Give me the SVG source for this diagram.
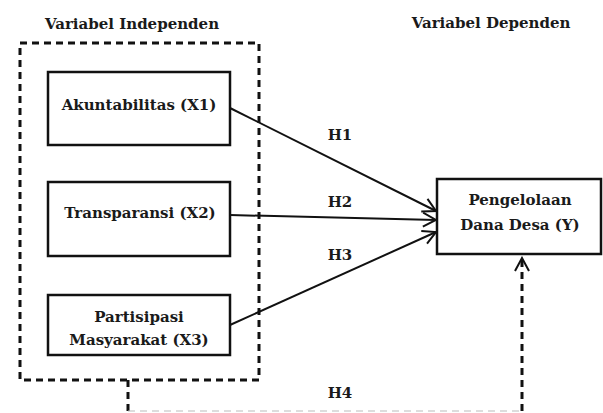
<svg xmlns="http://www.w3.org/2000/svg" width="603" height="413" viewBox="0 0 603 413">
<style>
text{font-family:'DejaVu Serif',serif;font-weight:bold;fill:#1a1a1a;text-anchor:middle;font-size:15px}
.box{fill:#fff;stroke:#111;stroke-width:2.5}
.dash{fill:none;stroke:#111;stroke-width:3;stroke-dasharray:7 5}
.ln{fill:none;stroke:#111;stroke-width:2}
</style>
<defs>
<marker id="arr" markerWidth="16" markerHeight="16" refX="14" refY="8" orient="auto" markerUnits="userSpaceOnUse">
<path d="M1,1 L14,8 L1,15" fill="none" stroke="#111" stroke-width="2"/>
</marker>
</defs>
<rect width="603" height="413" fill="#fff"/>
<text x="132" y="29">Variabel Independen</text>
<text x="491" y="28">Variabel Dependen</text>
<g id="independen">
<rect class="dash" x="20" y="43" width="239" height="337"/>
</g>
<g id="x1">
<rect class="box" x="48" y="72" width="182" height="73"/>
<text x="139" y="110">Akuntabilitas (X1)</text>
</g>
<g id="x2">
<rect class="box" x="48" y="182" width="182" height="74"/>
<text x="140" y="218">Transparansi (X2)</text>
</g>
<g id="x3">
<rect class="box" x="48" y="295" width="182" height="60"/>
<text x="139" y="322">Partisipasi</text>
<text x="139" y="345">Masyarakat (X3)</text>
</g>
<g id="y">
<rect class="box" x="437" y="179" width="164" height="75"/>
<text x="520" y="205">Pengelolaan</text>
<text x="520" y="230">Dana Desa (Y)</text>
</g>
<g id="connectors">
<line class="ln" x1="230" y1="108" x2="436" y2="211" marker-end="url(#arr)"/>
<line class="ln" x1="230" y1="215" x2="436" y2="220" marker-end="url(#arr)"/>
<line class="ln" x1="230" y1="325" x2="436" y2="232" marker-end="url(#arr)"/>
<path class="dash" d="M128,380 V411"/>
<path d="M128,411 H522" fill="none" stroke="#bbb" stroke-width="1.2" stroke-dasharray="7 5"/>
<path class="dash" d="M522,411 V258" marker-end="url(#arr)"/>
<text x="340" y="140">H1</text>
<text x="340" y="207">H2</text>
<text x="340" y="260">H3</text>
<text x="340" y="398">H4</text>
</g>
</svg>
